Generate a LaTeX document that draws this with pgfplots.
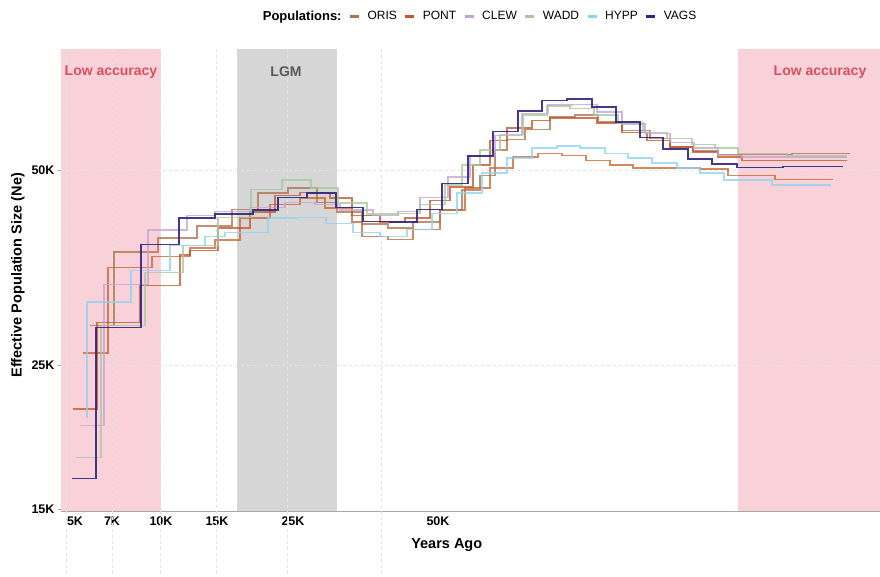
\documentclass[border=0pt]{standalone}
\usepackage{fontspec}
\setmainfont{Liberation Sans}
\usepackage{pgfplots}
\pgfplotsset{compat=1.18}

\definecolor{oris}{HTML}{B0714E}
\definecolor{pont}{HTML}{C4552B}
\definecolor{clew}{HTML}{C3A2D8}
\definecolor{wadd}{HTML}{A6C89C}
\definecolor{hypp}{HTML}{8DD3F2}
\definecolor{vags}{HTML}{2E2382}
\definecolor{pontb}{HTML}{C9652F}
\definecolor{lowacc}{HTML}{F9D2D9}
\definecolor{lgm}{HTML}{D6D6D6}
\definecolor{lowtxt}{HTML}{D9505C}
\definecolor{gridc}{HTML}{E4E4E4}

\begin{document}
\begin{tikzpicture}
\useasboundingbox (0,0) rectangle (880pt,577pt);
\begin{axis}[
  at={(61pt,66pt)}, anchor=south west,
  scale only axis, width=819pt, height=462pt,
  xmin=61, xmax=880,
  ymode=log, ymin=14900, ymax=76900,
  clip=false,
  axis lines*=left,
  axis line style={draw=gray!70, line width=0.8pt},
  xtick={75,112,161,217,293,438},
  xticklabels={5K,7K,10K,15K,25K,50K},
  ytick={15000,25000,50000},
  yticklabels={15K,25K,50K},
  minor ytick={},
  xtick style={draw=none},
  ytick style={draw=gray!70, line width=0.8pt},
  tick align=outside, major tick length=3pt,
  tick label style={font=\fontsize{12.5}{14}\selectfont\bfseries},
  xticklabel style={yshift=1pt},
  xlabel={Years Ago},
  ylabel={Effective Population Size (Ne)},
  xlabel style={at={(axis description cs:0.471,-0.0736)}, anchor=center, font=\fontsize{14.5}{16}\selectfont\bfseries},
  ylabel style={at={(axis description cs:-0.0525,0.51)}, anchor=center, font=\fontsize{14.5}{16}\selectfont\bfseries},
  legend style={at={(axis description cs:0.508,1.071)}, anchor=center, draw=none, fill=none,
    legend columns=-1, font=\fontsize{12}{14}\selectfont,
    /tikz/every odd column/.append style={column sep=5pt},
    /tikz/every even column/.append style={column sep=5pt}},
  legend image code/.code={\draw[#1, opacity=1, line width=3pt] (0pt,0pt) -- (9pt,0pt);},
  every axis plot/.append style={const plot, line width=1.3pt, opacity=0.78},
]
% shaded periods
\fill[lowacc] (axis cs:61,14900) rectangle (axis cs:161,76900);
\fill[lgm] (axis cs:237,14900) rectangle (axis cs:337,76900);
\fill[lowacc] (axis cs:738,14900) rectangle (axis cs:880,76900);
% grid
\pgfplotsinvokeforeach{66,112,160,216,287,381}{
  \draw[gridc, line width=0.6pt, dash pattern=on 3pt off 3pt] (axis cs:#1,76900) -- ([yshift=-66pt]axis cs:#1,14900);
}
\draw[gridc, line width=0.6pt, dash pattern=on 3pt off 3pt] (axis cs:61,50000) -- (axis cs:880,50000);
\draw[gridc, line width=0.6pt, dash pattern=on 3pt off 3pt] (axis cs:61,25000) -- (axis cs:880,25000);
\node[lowtxt, font=\fontsize{14}{16}\selectfont\bfseries] at (axis cs:111,70900) {Low accuracy};
\node[lowtxt, font=\fontsize{14}{16}\selectfont\bfseries] at (axis cs:820,70900) {Low accuracy};
\node[black!65, font=\fontsize{14}{16}\selectfont\bfseries] at (axis cs:286,70900) {LGM};

\addlegendimage{empty legend}
\addlegendentry{\fontsize{13}{15}\selectfont\bfseries Populations:}

% extra orange trajectory (not in legend)
\addplot[pontb, forget plot] coordinates {
 (83,26100) (108,35400) (152,36800) (190,37900) (215,39000) (240,42200) (270,44200)
 (300,45300) (325,43700) (352,41600) (362,39500) (388,39100) (413,40500) (440,43400)
 (465,46900) (490,50400) (513,52400) (538,53100) (562,52700) (586,51800) (610,50900)
 (633,50400) (700,50200) (728,49100) (775,48400) (833,48400)
};
\addplot[oris] coordinates {
 (90,28800) (114,37400) (158,39300) (197,41000) (232,43500) (258,46100) (288,46900)
 (317,44600) (337,43100) (362,41300) (388,40700) (413,41600) (440,43400) (462,46600)
 (480,49100) (495,53700) (507,55800) (525,57800) (550,60400) (575,60800) (598,59300)
 (622,57600) (650,56000) (670,54300) (693,53500) (718,52900) (742,52900) (792,53100)
 (850,53100)
};
\addlegendentry{ORIS}
\addplot[pont] coordinates {
 (73,21400) (97,29100) (140,33200) (180,37000) (190,37600) (218,40700) (250,43100)
 (275,45700) (300,46200) (330,45300) (352,42600) (380,41600) (405,42200) (430,44900)
 (450,47100) (473,50900) (490,55600) (507,58100) (532,59700) (550,60200) (597,59100)
 (622,57200) (647,55600) (670,54300) (693,53300) (718,52400) (742,51800) (847,51800)
};
\addlegendentry{PONT}
\addplot[clew] coordinates {
 (80,20200) (104,33300) (148,40400) (187,42600) (215,43200) (250,43800) (285,44600)
 (315,44200) (340,43400) (373,42600) (398,43200) (420,45400) (448,48800) (470,52700)
 (495,56600) (522,61200) (548,63000) (572,63200) (597,61500) (622,58900) (645,57000)
 (670,55200) (694,54100) (718,52700) (742,52400) (847,52400)
};
\addlegendentry{CLEW}
\addplot[wadd] coordinates {
 (76,18000) (101,28800) (145,34800) (183,38300) (218,42300) (251,46700) (282,48300)
 (311,46900) (338,44500) (367,42800) (398,42900) (420,44300) (445,47400) (462,50900)
 (480,53700) (500,56800) (523,60800) (547,62800) (570,62300) (594,60800) (618,59100)
 (643,57200) (667,56000) (692,54800) (715,54100) (738,53100) (787,52600) (847,52600)
};
\addlegendentry{WADD}
\addplot[hypp] coordinates {
 (86,20800) (87,31300) (131,35000) (170,38300) (205,39500) (225,40100) (268,42200)
 (297,42300) (326,41400) (353,40100) (380,39500) (407,40500) (432,42900) (457,46100)
 (482,49500) (507,52200) (532,54100) (557,54500) (580,54100) (605,53100) (628,52200)
 (652,51300) (677,50400) (700,49500) (724,48300) (772,47400) (831,47400)
};
\addlegendentry{HYPP}
\addplot[vags, opacity=0.9] coordinates {
 (72,16700) (96,28600) (141,38400) (179,42200) (215,42800) (253,43400) (278,45400)
 (307,46100) (336,43800) (363,41700) (390,41600) (417,43500) (442,47700) (468,52600)
 (493,57400) (518,61700) (542,64100) (567,64400) (592,62600) (616,59300) (640,56200)
 (663,53900) (688,52000) (712,51100) (737,50500) (783,50700) (843,50700)
};
\addlegendentry{VAGS}
\end{axis}
\end{tikzpicture}
\end{document}
